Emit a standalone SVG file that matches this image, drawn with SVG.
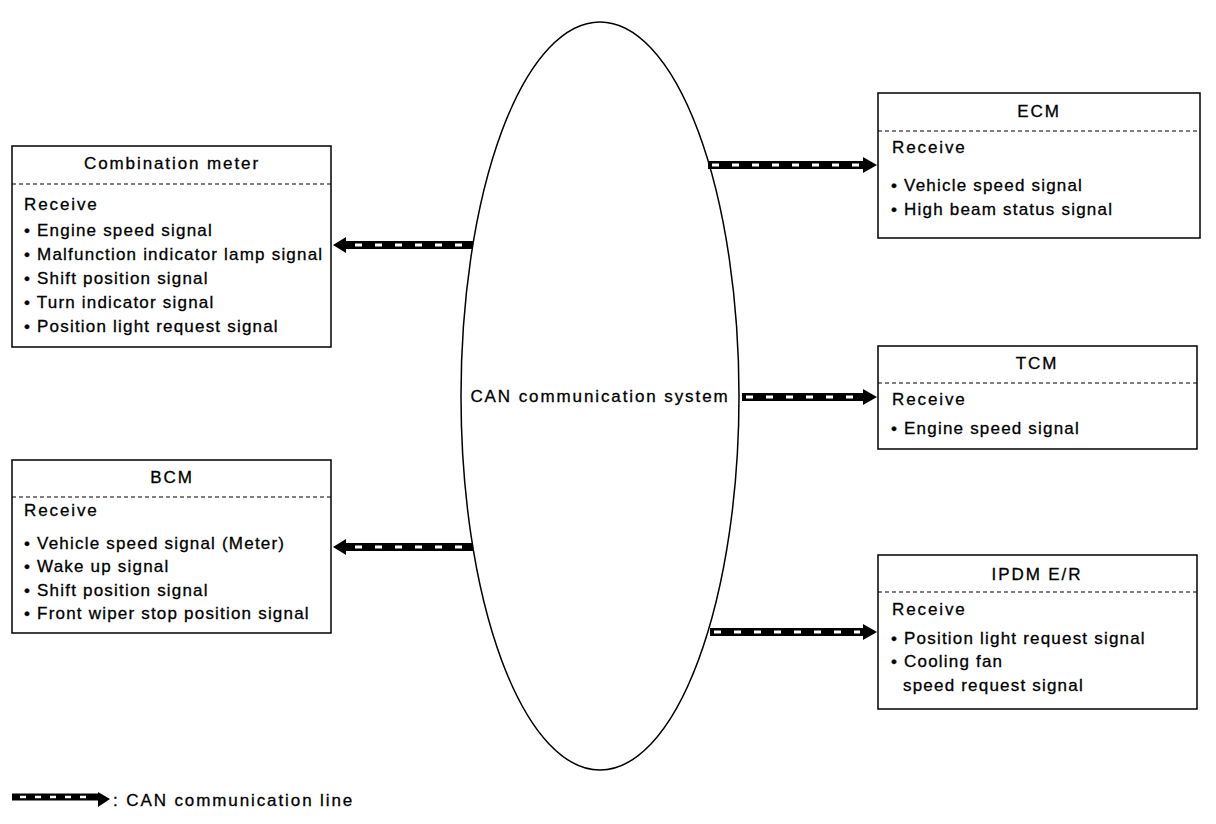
<svg xmlns="http://www.w3.org/2000/svg" width="1216" height="824" viewBox="0 0 1216 824">
<defs>
<style>
text{font-family:"Liberation Sans",Arial,sans-serif;font-size:17px;letter-spacing:1.9px;fill:#000;stroke:#000;stroke-width:0.3}
.t{text-anchor:middle}
.b{letter-spacing:1.2px}
.box{fill:#fff;stroke:#000;stroke-width:1.5}
.sep{stroke:#000;stroke-width:1;stroke-dasharray:4 3}
.shaft{stroke:#000;stroke-width:8;fill:none}
.dash{stroke:#fff;stroke-width:3;fill:none;stroke-dasharray:7 13}
.head{fill:#000}
</style>
</defs>
<rect width="1216" height="824" fill="#fff"/>
<ellipse cx="600" cy="396" rx="139" ry="374" fill="none" stroke="#000" stroke-width="1.5"/>
<text class="t" x="600" y="402">CAN communication system</text>

<g id="combination-meter">
<rect class="box" x="12" y="146" width="319" height="201"/>
<line class="sep" x1="12" y1="184" x2="331" y2="184"/>
<text class="t" x="172" y="169">Combination meter</text>
<text x="24" y="210">Receive</text>
<text class="b" x="24" y="236">• Engine speed signal</text>
<text class="b" x="24" y="260">• Malfunction indicator lamp signal</text>
<text class="b" x="24" y="284">• Shift position signal</text>
<text class="b" x="24" y="308">• Turn indicator signal</text>
<text class="b" x="24" y="332">• Position light request signal</text>
</g>

<g id="bcm">
<rect class="box" x="12" y="460" width="319" height="173"/>
<line class="sep" x1="12" y1="497" x2="331" y2="497"/>
<text class="t" x="172" y="483">BCM</text>
<text x="24" y="516">Receive</text>
<text class="b" x="24" y="549">• Vehicle speed signal (Meter)</text>
<text class="b" x="24" y="572">• Wake up signal</text>
<text class="b" x="24" y="596">• Shift position signal</text>
<text class="b" x="24" y="619">• Front wiper stop position signal</text>
</g>

<g id="ecm">
<rect class="box" x="878" y="93" width="322" height="145"/>
<line class="sep" x1="878" y1="131" x2="1200" y2="131"/>
<text class="t" x="1039" y="117">ECM</text>
<text x="892" y="153">Receive</text>
<text class="b" x="891" y="191">• Vehicle speed signal</text>
<text class="b" x="891" y="215">• High beam status signal</text>
</g>

<g id="tcm">
<rect class="box" x="878" y="346" width="319" height="103"/>
<line class="sep" x1="878" y1="383" x2="1197" y2="383"/>
<text class="t" x="1037" y="369">TCM</text>
<text x="892" y="405">Receive</text>
<text class="b" x="891" y="434">• Engine speed signal</text>
</g>

<g id="ipdm-er">
<rect class="box" x="878" y="555" width="319" height="154"/>
<line class="sep" x1="878" y1="592" x2="1197" y2="592"/>
<text class="t" x="1037" y="580">IPDM E/R</text>
<text x="892" y="615">Receive</text>
<text class="b" x="891" y="644">• Position light request signal</text>
<text class="b" x="891" y="667">• Cooling fan</text>
<text class="b" x="903" y="691">speed request signal</text>
</g>

<g id="connectors">
<line class="shaft" x1="473" y1="245" x2="344" y2="245"/>
<line class="dash" x1="355" y1="245" x2="473" y2="245"/>
<polygon class="head" points="333,245 346,237 346,253"/>

<line class="shaft" x1="473" y1="547" x2="344" y2="547"/>
<line class="dash" x1="355" y1="547" x2="473" y2="547"/>
<polygon class="head" points="333,547 346,539 346,555"/>

<line class="shaft" x1="708" y1="165" x2="864" y2="165"/>
<line class="dash" x1="712" y1="165" x2="860" y2="165"/>
<polygon class="head" points="877,165 863,157 863,173"/>

<line class="shaft" x1="742" y1="397" x2="864" y2="397"/>
<line class="dash" x1="746" y1="397" x2="860" y2="397"/>
<polygon class="head" points="877,397 863,389 863,405"/>

<line class="shaft" x1="710" y1="632" x2="864" y2="632"/>
<line class="dash" x1="714" y1="632" x2="860" y2="632"/>
<polygon class="head" points="877,632 863,624 863,640"/>
</g>

<g id="legend">
<line x1="12" y1="797" x2="99" y2="797" stroke="#000" stroke-width="7"/>
<line x1="20" y1="797" x2="92" y2="797" stroke="#fff" stroke-width="2.5" stroke-dasharray="6 9"/>
<polygon points="110,799 98,792 98,807" fill="#000"/>
<text x="113" y="806">: CAN communication line</text>
</g>
</svg>
